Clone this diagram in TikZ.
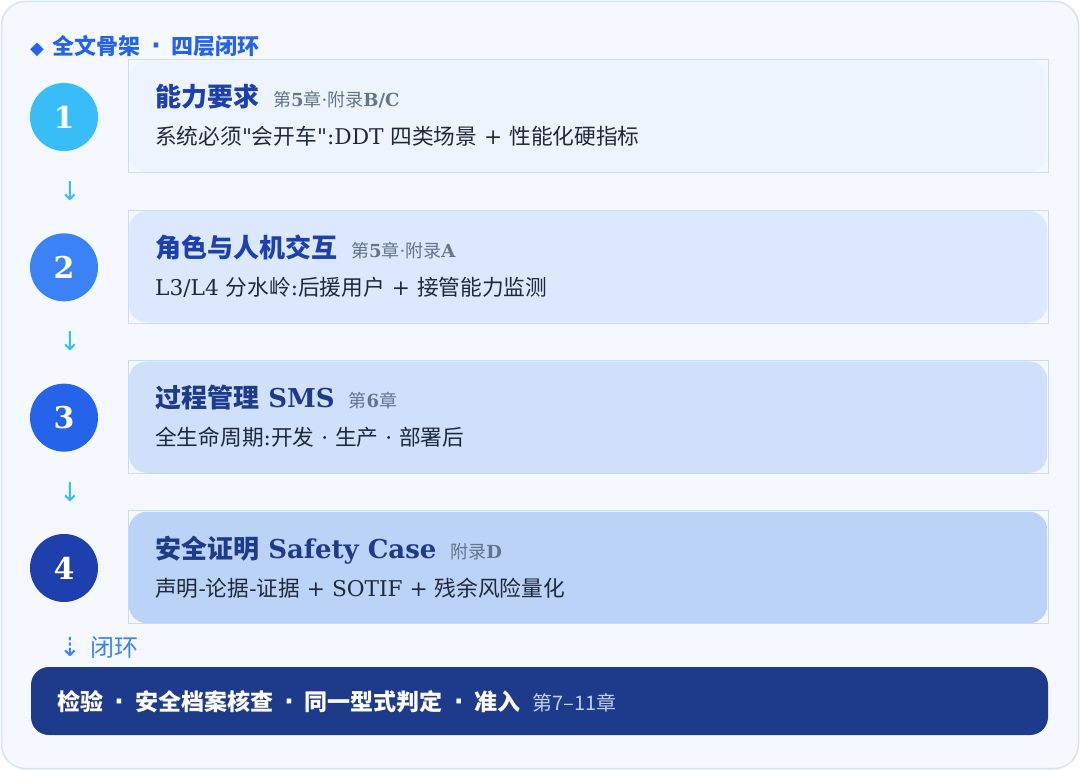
\documentclass[tikz,border=0pt]{standalone}
\usepackage{fontspec}
\setmainfont{DejaVu Serif}
\newfontfamily\cjk{Noto Sans CJK SC}
\newfontfamily\symb{DejaVu Sans}
\newfontfamily\plainserif{DejaVu Serif}
\usetikzlibrary{positioning}

\definecolor{panelbg}{HTML}{F5F9FF}
\definecolor{panelline}{HTML}{D5E3F7}
\definecolor{cardline}{HTML}{CADCF3}
\definecolor{cardA}{HTML}{EEF4FE}
\definecolor{cardB}{HTML}{DBE8FE}
\definecolor{cardC}{HTML}{CFE0FA}
\definecolor{cardD}{HTML}{BBD3F6}
\definecolor{numA}{HTML}{38BDF8}
\definecolor{numB}{HTML}{3B82F6}
\definecolor{numC}{HTML}{2563EB}
\definecolor{numD}{HTML}{1E40AF}
\definecolor{titleblue}{HTML}{1E40AF}
\definecolor{titledark}{HTML}{1E3A8A}
\definecolor{refgray}{HTML}{64748B}
\definecolor{bodytext}{HTML}{1E293B}
\definecolor{barblue}{HTML}{1E3A8A}
\definecolor{barref}{HTML}{BFD0EA}

\newcommand{\ttl}[1]{{\cjk\bfseries #1}}
\newcommand{\rf}[1]{{\mdseries\fontsize{18}{20}\selectfont\color{refgray}#1}}
\newcommand{\dq}{{\plainserif"}}
\newcommand{\mdot}{\hspace{11pt}{\symb\bfseries\fontsize{26}{26}\selectfont ·}\hspace{11pt}}

\tikzset{
	txt/.style={anchor=base west, inner sep=0pt},
	title/.style={txt, font=\fontsize{26}{30}\selectfont\bfseries},
	body/.style={txt, text=bodytext, font=\fontsize{21.7}{24}\selectfont},
	numdot/.style={circle, minimum size=68pt, inner sep=0pt, text=white, font=\fontsize{30}{32}\selectfont\bfseries},
	downarrow/.style={inner sep=0pt, text=numA, font=\symb\fontsize{26}{28}\selectfont}
}

\begin{document}
\begin{tikzpicture}[x=1pt, y=-1pt]
	\useasboundingbox (0,0) rectangle (1080,770);
	
	\draw[fill=panelbg, draw=panelline, line width=1.5pt, rounded corners=24pt] (1.5,1.5) rectangle (1078.5,768.5);
	
	\node[txt, text=numC, font=\fontsize{22}{24}\selectfont] (head) at (30,55)
		{{\symb\fontsize{18}{20}\selectfont ◆}\hspace{8pt}{\cjk\bfseries 全文骨架\mdot 四层闭环}};
	
	\foreach \z/\fcol/\ccol in {1/cardA/numA, 2/cardB/numB, 3/cardC/numC, 4/cardD/numD}
	{
		\pgfmathsetmacro\top{60+150.33*(\z-1)}
		\draw[cardline, line width=1pt] (128,\top) rectangle (1048,\top+113);
		\fill[\fcol, rounded corners=18pt] (128.8,\top+0.8) rectangle (1047.2,\top+112.2);
		
		\node[numdot, fill=\ccol] (n\z) at (64,\top+57) {\z};
	}
	
	\node[downarrow] (a1) at (70,191) {↓};
	\node[downarrow] (a2) at (70,341) {↓};
	\node[downarrow] (a3) at (70,492) {↓};
	
	% card texts
	\node[title, text=titleblue] (t1) at (155,107) {\ttl{能力要求}\hspace{14pt}\rf{{\cjk 第}\textbf{5}{\cjk 章}·{\cjk 附录}\textbf{B/C}}};
	\node[body] (b1) at (155,145) {{\cjk 系统必须}\dq{\cjk 会开车}\dq:DDT {\cjk 四类场景} + {\cjk 性能化硬指标}};
	
	\node[title, text=titleblue] (t2) at (155,257.3) {\ttl{角色与人机交互}\hspace{14pt}\rf{{\cjk 第}\textbf{5}{\cjk 章}·{\cjk 附录}\textbf{A}}};
	\node[body] (b2) at (155,295.3) {L3/L4 {\cjk 分水岭}:{\cjk 后援用户} + {\cjk 接管能力监测}};
	
	\node[title, text=titledark] (t3) at (155,407.7) {\ttl{过程管理} SMS\hspace{14pt}\rf{{\cjk 第}\textbf{6}{\cjk 章}}};
	\node[body] (b3) at (155,445.7) {{\cjk 全生命周期}:{\cjk 开发} · {\cjk 生产} · {\cjk 部署后}};
	
	\node[title, text=titledark] (t4) at (155,558) {\ttl{安全证明} Safety Case\hspace{14pt}\rf{{\cjk 附录}\textbf{D}}};
	\node[body] (b4) at (155,596) {{\cjk 声明}-{\cjk 论据}-{\cjk 证据} + SOTIF + {\cjk 残余风险量化}};
	
	% closing loop
	\node[downarrow, text=numB] (a4) at (70,647) {⇣};
	\node[txt, text=numB, font=\cjk\fontsize{24}{28}\selectfont] (loop) at (90,656) {闭环};
	
	\fill[barblue, rounded corners=18pt] (31,667) rectangle (1048,735);
	\node[txt, text=white, font=\cjk\fontsize{23}{26}\selectfont] (bar) at (57,710)
		{{\bfseries 检验\mdot 安全档案核查\mdot 同一型式判定\mdot 准入}\hspace{12pt}{\color{barref}\fontsize{20}{22}\selectfont 第7–11章}};
	
\end{tikzpicture}
\end{document}
